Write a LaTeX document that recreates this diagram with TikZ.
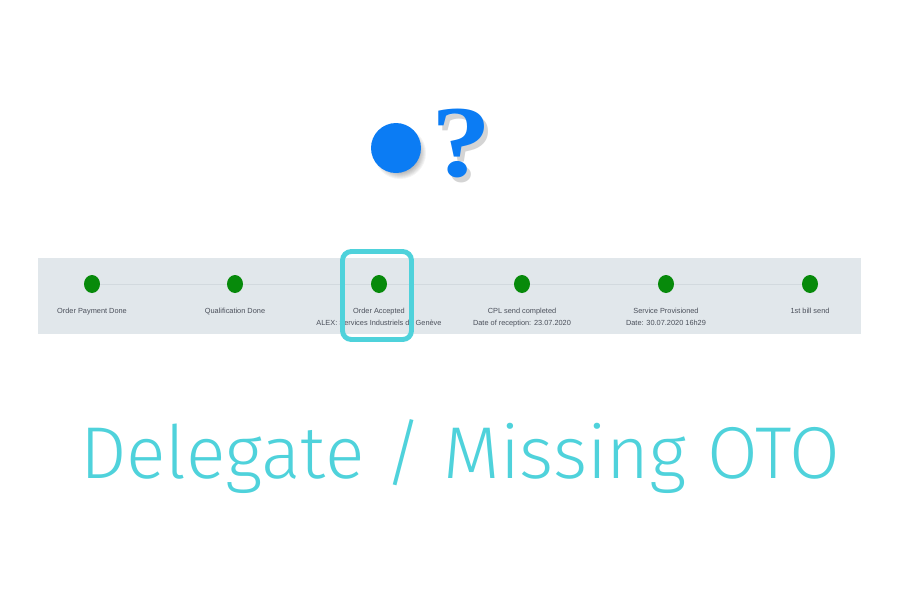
\documentclass[tikz,border=0pt]{standalone}
\usepackage{fontspec}
\setmainfont{Liberation Sans}
\newfontfamily\titlefont{Fira Sans Light}
\newfontfamily\markfont{Liberation Serif}
\usetikzlibrary{positioning,shapes.geometric}

\definecolor{bandgray}{HTML}{E1E7EB}
\definecolor{trackgray}{HTML}{D2D9DE}
\definecolor{stagegreen}{HTML}{078A0B}
\definecolor{labelgray}{HTML}{4A4F5A}
\definecolor{hiteal}{HTML}{4FD2DB}
\definecolor{markblue}{HTML}{0B7CF4}
\definecolor{shadegray}{HTML}{D4D4D4}

\newcommand{\qmark}{\scalebox{1.18}[1]{?}}

\begin{document}
\begin{tikzpicture}[x=0.02cm,y=-0.02cm,
  stage/.style={ellipse,fill=stagegreen,minimum width=0.32cm,minimum height=0.36cm,inner sep=0pt},
  lbl/.style={anchor=north,align=center,text=labelgray,font=\fontsize{4.2}{6.8}\selectfont},
  track/.style={trackgray,line width=0.5pt},
  qfont/.style={anchor=base,font=\markfont\bfseries\fontsize{58}{58}\selectfont}]

\useasboundingbox (0,0) rectangle (900,600);

% band
\fill[bandgray] (38,258) rectangle (861,334);

% stages
\node[stage] (s1) at (92,284) {};
\node[stage] (s2) at (235,284) {};
\node[stage] (s3) at (379,284) {};
\node[stage] (s4) at (522,284) {};
\node[stage] (s5) at (666,284) {};
\node[stage] (s6) at (810,284) {};

\draw[track] (s1) -- (s2);
\draw[track] (s2) -- (s3);
\draw[track] (s3) -- (s4);
\draw[track] (s4) -- (s5);
\draw[track] (s5) -- (s6);

\node[lbl] (l1) at (92,302) {Order Payment Done};
\node[lbl] (l2) at (235,302) {Qualification Done};
\node[lbl] (l3) at (379,302) {Order Accepted\\ALEX: Services Industriels de Genève};
\node[lbl] (l4) at (522,302) {CPL send completed\\Date of reception: 23.07.2020};
\node[lbl] (l5) at (666,302) {Service Provisioned\\Date: 30.07.2020 16h29};
\node[lbl] (l6) at (810,302) {1st bill send};

% highlight
\node[draw=hiteal,line width=2.8pt,rounded corners=5pt,minimum width=1.38cm,minimum height=1.76cm] (hl) at (377,295.5) {};

% mark
\foreach \k in {0,...,6}
  \fill[black,opacity=0.045] (400,153) circle (20+\k);
\node[circle,fill=markblue,minimum size=1cm,inner sep=0pt] (dot) at (396,148) {};
\node[qfont,text=markblue] (q) at (462,176)
  {\makebox[0pt][l]{\kern2.2pt\raisebox{-3pt}{\color{shadegray}\qmark}}\qmark};

% title
\node[text=hiteal,anchor=base,font=\titlefont\fontsize{41.8}{42}\selectfont] (title) at (460,478) {Delegate / Missing OTO};
\end{tikzpicture}
\end{document}
